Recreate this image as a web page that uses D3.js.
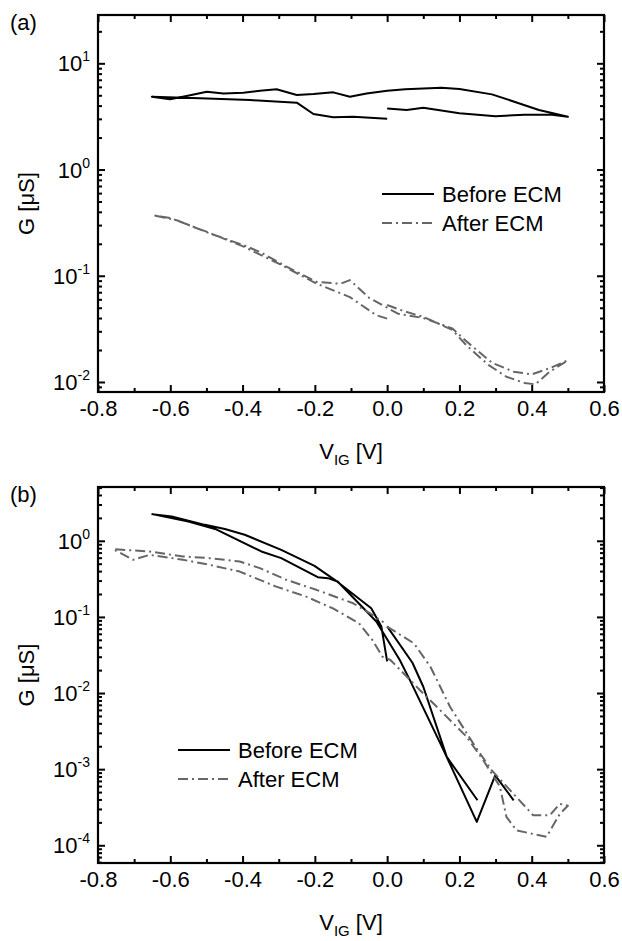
<!DOCTYPE html>
<html>
<head>
<meta charset="utf-8">
<script src="https://cdn.jsdelivr.net/npm/d3@7"></script>
<style>
body{margin:0;background:#fff;}
svg{display:block;font-family:"Liberation Sans",Arial,sans-serif;}
</style>
</head>
<body>
<script>
// ---- data ----
const x_ticks = [-0.8,-0.6,-0.4,-0.2,0.0,0.2,0.4,0.6]
const x_minor = [-0.7,-0.5,-0.3,-0.1,0.1,0.3,0.5]
const exps_a = [1,0,-1,-2]
const exps_b = [0,-1,-2,-3,-4]

// panel (a) before ECM (one sweep loop)
const va_before = [0.0,0.054,0.10,0.20,0.30,0.38,0.45,0.50,0.45,0.42,0.36,0.29,0.20,0.15,0.05,0.0,-0.057,-0.103,-0.149,-0.204,-0.25,-0.306,-0.352,-0.398,-0.453,-0.499,-0.555,-0.601,-0.651,-0.518,-0.379,-0.25,-0.204,-0.149,-0.094,0.0]
const ga_before = [3.76,3.63,3.82,3.38,3.18,3.28,3.3,3.14,3.45,3.63,4.26,5.1,5.72,5.89,5.69,5.52,5.21,4.85,5.33,5.14,5.03,5.69,5.52,5.29,5.21,5.40,4.92,4.58,4.85,4.68,4.51,4.26,3.33,3.10,3.14,3.01]
// panel (a) after ECM
const va_after = [0.0,0.05,0.10,0.18,0.22,0.28,0.33,0.38,0.41,0.45,0.50,0.45,0.40,0.35,0.29,0.22,0.18,0.10,0.03,0.0,-0.05,-0.103,-0.13,-0.195,-0.277,-0.351,-0.397,-0.49,-0.582,-0.648,-0.60,-0.50,-0.40,-0.30,-0.195,-0.103,-0.03,0.0]
const ga_after = [0.053,0.046,0.041,0.031,0.022,0.0145,0.0112,0.0098,0.0095,0.0125,0.016,0.0135,0.0118,0.0125,0.0152,0.024,0.032,0.040,0.044,0.050,0.062,0.091,0.084,0.0875,0.121,0.167,0.194,0.25,0.333,0.372,0.35,0.26,0.19,0.13,0.0843,0.063,0.0425,0.0395]

// panel (b) before ECM (null = gap in the trace)
const vb_before = [0.0,0.07,0.10,0.165,0.25,null,0.35,0.299,0.248,0.156,0.063,0.035,-0.03,-0.137,-0.164,-0.192,-0.293,-0.348,-0.476,-0.55,-0.65,-0.596,-0.504,-0.449,-0.394,-0.293,-0.201,-0.145,-0.044,-0.016,0.0]
const gb_before = [0.075,0.025,0.0121,0.00145,0.00039,null,0.00039,0.00083,0.000203,0.00178,0.0148,0.0272,0.087,0.292,0.323,0.333,0.592,0.724,1.43,1.79,2.24,2.09,1.62,1.43,1.20,0.76,0.469,0.307,0.13,0.0746,0.026]
// panel (b) after ECM
const vb_after = [0.0,0.074,0.12,0.174,0.238,0.289,0.34,0.404,0.45,0.478,0.50,0.478,0.441,0.358,0.33,0.312,0.266,0.22,0.146,0.091,0.009,-0.013,-0.041,-0.078,-0.151,-0.224,-0.307,-0.408,-0.491,-0.565,-0.657,-0.703,-0.758,-0.657,-0.565,-0.491,-0.408,-0.352,-0.279,-0.196,-0.094,-0.048,-0.01]
const gb_after = [0.0746,0.045,0.022,0.0066,0.00218,0.00097,0.00053,0.000248,0.000248,0.00035,0.00033,0.00026,0.000129,0.000157,0.000236,0.00059,0.00131,0.00266,0.006,0.0109,0.0272,0.030,0.0498,0.0826,0.130,0.185,0.25,0.394,0.483,0.563,0.654,0.563,0.777,0.724,0.622,0.591,0.535,0.437,0.307,0.227,0.151,0.112,0.085]

const legend_names = ["Before ECM","After ECM"]

const W = 622, H = 941
const xLeft = 98, xRight = 604

const svg = d3.select("body").append("svg")
    .attr("width",W)
    .attr("height",H)

function minor_logs(domain){
    const out = []
    const lo = Math.floor(Math.log10(domain[0])), hi = Math.ceil(Math.log10(domain[1]))
    for(let e=lo;e<=hi;e++){
        for(let m=2;m<=9;m++){
            const v = m*Math.pow(10,e)
            if(v>=domain[0] && v<=domain[1]) out.push(v)
        }
    }
    return out
}

function draw_panel(top, bottom, yDomain, exps, series, legend, label){
    const x = d3.scaleLinear().domain([-0.8,0.6]).range([xLeft,xRight])
    const y = d3.scaleLog().domain(yDomain).range([bottom,top])
    const g = svg.append("g")

    // ticks, all pointing inward
    const xMaj = d3.axisBottom(x).tickValues(x_ticks).tickSizeInner(-7).tickSizeOuter(0).tickPadding(8)
        .tickFormat(d => d.toFixed(1))   // plain hyphen like the original
    const xMin = d3.axisBottom(x).tickValues(x_minor).tickSizeInner(-4).tickSizeOuter(0).tickFormat("")
    g.append("g").attr("transform",`translate(0,${bottom})`).call(xMaj)
    g.append("g").attr("transform",`translate(0,${bottom})`).call(xMin)
    g.append("g").attr("transform",`translate(0,${top})`).call(d3.axisTop(x).tickValues(x_ticks).tickSizeInner(-7).tickSizeOuter(0).tickFormat(""))
    g.append("g").attr("transform",`translate(0,${top})`).call(d3.axisTop(x).tickValues(x_minor).tickSizeInner(-4).tickSizeOuter(0).tickFormat(""))

    const yMajVals = exps.map(e => Math.pow(10,e))
    const yMinVals = minor_logs(yDomain)
    g.append("g").attr("transform",`translate(${xLeft},0)`).call(d3.axisLeft(y).tickValues(yMajVals).tickSizeInner(-7).tickSizeOuter(0).tickFormat(""))
    g.append("g").attr("transform",`translate(${xLeft},0)`).call(d3.axisLeft(y).tickValues(yMinVals).tickSizeInner(-4).tickSizeOuter(0).tickFormat(""))
    g.append("g").attr("transform",`translate(${xRight},0)`).call(d3.axisRight(y).tickValues(yMajVals).tickSizeInner(-7).tickSizeOuter(0).tickFormat(""))
    g.append("g").attr("transform",`translate(${xRight},0)`).call(d3.axisRight(y).tickValues(yMinVals).tickSizeInner(-4).tickSizeOuter(0).tickFormat(""))

    g.selectAll(".domain").remove()
    g.selectAll(".tick line").attr("stroke","#000").attr("stroke-width",2)
    g.selectAll(".tick text").attr("font-size",22).attr("fill","#000")
        .attr("font-family","'Liberation Sans',Arial,sans-serif")

    // y labels 10^n
    const yl = g.selectAll("text.ylab").data(exps).enter()
        .append("text")
        .attr("class","ylab")
        .attr("x",90)
        .attr("y",d => y(Math.pow(10,d)) + 8)
        .attr("text-anchor","end")
        .attr("font-size",22)
    yl.append("tspan").text("10")
    yl.append("tspan").attr("dy",-10).attr("font-size",14).text(d => d<0 ? "-"+(-d) : d)

    // frame
    g.append("rect")
        .attr("x",xLeft).attr("y",top)
        .attr("width",xRight-xLeft).attr("height",bottom-top)
        .attr("fill","none").attr("stroke","#000").attr("stroke-width",2.2)

    // curves
    const line = d3.line()
        .defined(d => d[0] !== null)
        .x(d => x(d[0]))
        .y(d => y(d[1]))
    series.forEach(s => {
        const pts = s.v.map((v,i) => [v, s.g[i]])
        g.append("path")
            .attr("d",line(pts))
            .attr("fill","none")
            .attr("stroke",s.color)
            .attr("stroke-width",2)
            .attr("stroke-linejoin","round")
            .attr("stroke-dasharray",s.dash)
    })

    // legend
    series.forEach((s,i) => {
        const ly = legend.y + i*29
        g.append("line")
            .attr("x1",legend.x).attr("x2",legend.x+52)
            .attr("y1",ly).attr("y2",ly)
            .attr("stroke",s.color).attr("stroke-width",2)
            .attr("stroke-dasharray",s.dash)
        g.append("text")
            .attr("x",legend.x+60).attr("y",ly+8)
            .attr("font-size",22)
            .text(legend_names[i])
    })

    // axis titles
    const xt = g.append("text")
        .attr("x",(xLeft+xRight)/2)
        .attr("y",bottom+67)
        .attr("text-anchor","middle")
        .attr("font-size",22)
    xt.append("tspan").text("V")
    xt.append("tspan").attr("dy",6).attr("font-size",15).text("IG")
    xt.append("tspan").attr("dy",-6).text(" [V]")

    g.append("text")
        .attr("transform",`translate(34,${(top+bottom)/2}) rotate(-90)`)
        .attr("text-anchor","middle")
        .attr("font-size",22)
        .text("G [\u03bcS]")

    g.append("text")
        .attr("x",10).attr("y",top+15)
        .attr("font-size",22)
        .text(label)
}

draw_panel(15, 392, [0.00805,28.5], exps_a,
    [{v:va_before,g:ga_before,color:"#000",dash:null},
     {v:va_after,g:ga_after,color:"#666",dash:"10,4,2,4"}],
    {x:382,y:194}, "(a)")

draw_panel(487, 863, [5.85e-5,5.09], exps_b,
    [{v:vb_before,g:gb_before,color:"#000",dash:null},
     {v:vb_after,g:gb_after,color:"#666",dash:"10,4,2,4"}],
    {x:178,y:750}, "(b)")
</script>
</body>
</html>
